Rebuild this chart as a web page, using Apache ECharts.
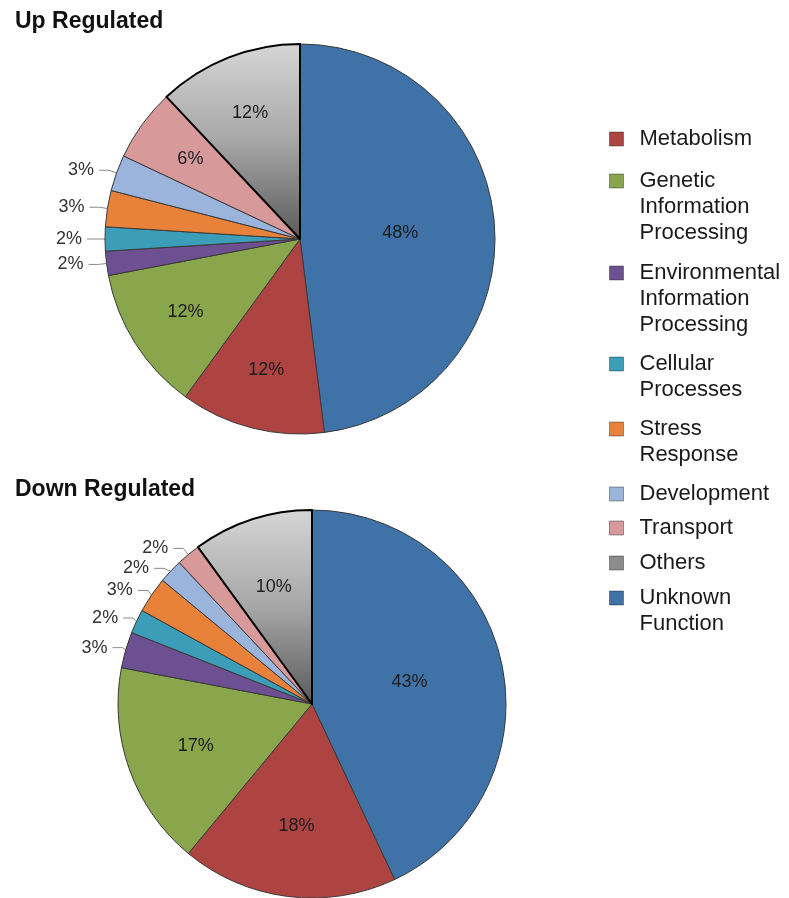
<!DOCTYPE html>
<html>
<head>
<meta charset="utf-8">
<script src="https://cdn.jsdelivr.net/npm/echarts@6/dist/echarts.min.js"></script>
<style>
  html, body { margin: 0; padding: 0; background: #ffffff; }
  #chart { width: 789px; height: 898px; }
</style>
</head>
<body>
<div id="chart"></div>
<script>
// ---- data ----
const categories = ['Unknown Function', 'Metabolism', 'Genetic Information Processing',
  'Environmental Information Processing', 'Cellular Processes', 'Stress Response',
  'Development', 'Transport', 'Others'];
const upValues = [48, 12, 12, 2, 2, 3, 3, 6, 12];
const downValues = [43, 18, 17, 3, 2, 3, 2, 2, 10];
const legendOrder = ['Metabolism', 'Genetic Information Processing',
  'Environmental Information Processing', 'Cellular Processes', 'Stress Response',
  'Development', 'Transport', 'Others', 'Unknown Function'];
const legendLabels = ['Metabolism', 'Genetic\nInformation\nProcessing',
  'Environmental\nInformation\nProcessing', 'Cellular\nProcesses', 'Stress\nResponse',
  'Development', 'Transport', 'Others', 'Unknown\nFunction'];
const chartTitles = ['Up Regulated', 'Down Regulated'];

// ---- styles / layout ----
const colors = {
  'Unknown Function': '#3f73a8',
  'Metabolism': '#ad4442',
  'Genetic Information Processing': '#89a64d',
  'Environmental Information Processing': '#6c5091',
  'Cellular Processes': '#3b9db7',
  'Stress Response': '#e8823a',
  'Development': '#9ab4dc',
  'Transport': '#d8999a',
  'Others': '#8c8c8c'
};
const FONT = "'Liberation Sans', Arial, sans-serif";
const LH = 26;
// vertical centre of the first text line of each legend entry (layout)
const legendRowY = [139, 181, 273, 364, 429, 494, 528, 563, 598];

const chart = echarts.init(document.getElementById('chart'), null, { renderer: 'canvas' });

function othersGradient() {
  return new echarts.graphic.LinearGradient(0, 0, 0, 1, [
    { offset: 0, color: '#d6d6d6' },
    { offset: 0.5, color: '#a6a6a6' },
    { offset: 1, color: '#5a5a5a' }
  ]);
}

function mainSeries(values, center, R) {
  const maxV = Math.max(...values);
  return {
    type: 'pie',
    center: center,
    radius: [0, R],
    startAngle: 90,
    clockwise: true,
    avoidLabelOverlap: true,
    animation: false,
    emphasis: { disabled: true },
    itemStyle: { borderColor: '#3a3a3a', borderWidth: 1 },
    labelLine: { length: 8, length2: 10, lineStyle: { color: '#8a8a8a', width: 1 } },
    data: categories.map((name, i) => {
      const v = values[i];
      const isOthers = name === 'Others';
      const item = {
        name: name,
        value: v,
        itemStyle: isOthers
          ? { color: othersGradient(), borderColor: '#000', borderWidth: 2 }
          : { color: colors[name] }
      };
      if (v === maxV) {
        item.label = { show: true, position: 'inside', formatter: '{c}%',
          fontFamily: FONT, fontSize: 18, color: '#1c1c1c' };
        item.labelLine = { show: false };
      } else if (v < 5) {
        item.label = { show: true, position: 'outside', formatter: '{c}%',
          fontFamily: FONT, fontSize: 18, color: '#333' };
        item.labelLine = { show: true };
      } else {
        item.label = { show: false };
        item.labelLine = { show: false };
      }
      return item;
    })
  };
}

function labelSeries(values, center, R, innerFrac) {
  const maxV = Math.max(...values);
  return {
    type: 'pie',
    center: center,
    radius: [Math.round(R * innerFrac), R],
    startAngle: 90,
    clockwise: true,
    silent: true,
    animation: false,
    legendHoverLink: false,
    avoidLabelOverlap: false,
    emphasis: { disabled: true },
    itemStyle: { color: 'rgba(0,0,0,0)', borderWidth: 0 },
    label: { show: true, position: 'inside', formatter: '{c}%',
      fontFamily: FONT, fontSize: 18, color: '#1c1c1c' },
    labelLine: { show: false },
    data: categories.map((name, i) => ({
      name: name,
      value: values[i],
      label: { show: values[i] >= 5 && values[i] !== maxV }
    }))
  };
}

const upCenter = [300, 239], upR = 195;
const downCenter = [312, 704], downR = 194;

// one legend component per entry so the marker sits on the first text line
const legends = legendOrder.map((name, i) => {
  const lines = legendLabels[i].split('\n');
  const n = lines.length;
  const padded = Array(n - 1).fill('\u00a0').concat(lines).join('\n');
  return {
    orient: 'vertical',
    left: 609,
    top: legendRowY[i] - (2 * n - 1) * LH / 2,
    padding: 0,
    itemWidth: 14,
    itemHeight: 14,
    itemGap: 0,
    icon: 'rect',
    selectedMode: false,
    itemStyle: { borderColor: 'rgba(0,0,0,0.35)', borderWidth: 1 },
    textStyle: { fontFamily: FONT, fontSize: 22, lineHeight: LH, color: '#1a1a1a',
      padding: [0, 0, 0, 11] },
    formatter: function () { return padded; },
    data: [{ name: name, itemStyle: { color: colors[name] } }]
  };
});

const option = {
  backgroundColor: '#ffffff',
  title: [
    { text: chartTitles[0], left: 15, top: 10, padding: 0,
      textStyle: { fontFamily: FONT, fontSize: 23, fontWeight: 'bold', color: '#111' } },
    { text: chartTitles[1], left: 15, top: 478, padding: 0,
      textStyle: { fontFamily: FONT, fontSize: 23, fontWeight: 'bold', color: '#111' } }
  ],
  legend: legends,
  series: [
    mainSeries(upValues, upCenter, upR),
    mainSeries(downValues, downCenter, downR),
    labelSeries(upValues, upCenter, upR, 0.36),
    labelSeries(downValues, downCenter, downR, 0.24)
  ]
};

chart.setOption(option);
</script>
</body>
</html>
